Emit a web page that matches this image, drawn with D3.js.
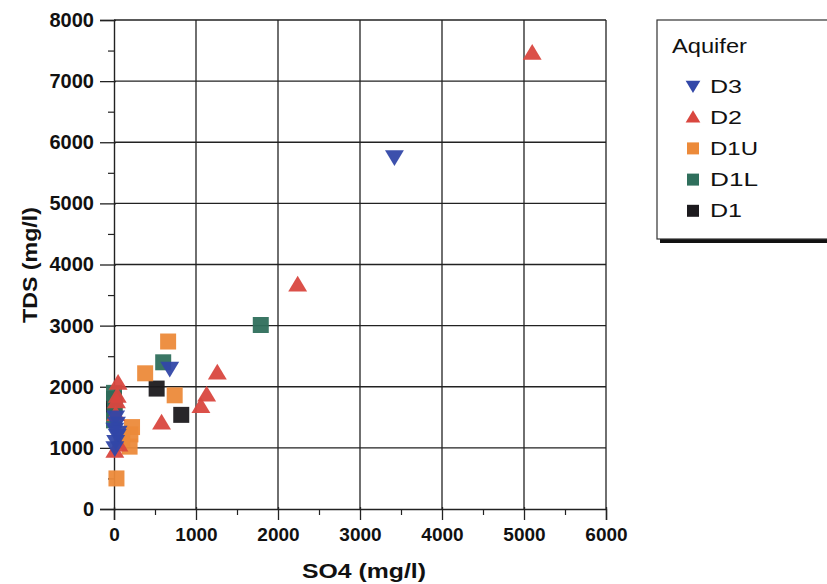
<!DOCTYPE html>
<html><head><meta charset="utf-8">
<script src="https://cdn.jsdelivr.net/npm/d3@7"></script>
<style>body{margin:0;background:#fff}svg{display:block}text{font-family:Arial,"Liberation Sans",sans-serif}</style>
</head><body>
<svg id="c" width="827" height="584"></svg>
<script>
const seriesNames = ["D3","D2","D1U","D1L","D1"];
const seriesColors = ["#3247a8","#d9473f","#ec8a3a","#2f6f5c","#1c1a1e"];
const seriesShapes = ["tri-down","tri-up","square","square","square"];
const D3pts  = [[3420,5760],[680,2300],[20,1500],[30,1400],[10,1300],[40,1200],[20,1100],[10,1000],[50,1250]];
const D2pts  = [[5100,7460],[2240,3670],[1260,2230],[1130,1870],[1060,1680],[580,1410],[50,2060],[30,1760],[20,1550],[10,950],[60,1050],[40,1850]];
const D1Upts = [[660,2740],[380,2220],[740,1860],[220,1340],[200,1220],[190,1020],[30,500],[100,1150]];
const D1Lpts = [[1790,3010],[600,2400],[0,1900],[10,1700],[0,1450]];
const D1pts  = [[520,1970],[820,1540],[0,1800],[0,1600]];
const xTicks = [0,1000,2000,3000,4000,5000,6000];
const yTicks = [0,1000,2000,3000,4000,5000,6000,7000,8000];
const minorX = [500,1500,2500,3500,4500,5500];
const minorY = [500,1500,2500,3500,4500,5500,6500,7500];
const allSeries = [D3pts,D2pts,D1Upts,D1Lpts,D1pts];

const svg = d3.select("#c");
const x = d3.scaleLinear().domain([0,6000]).range([114,606]);
const y = d3.scaleLinear().domain([0,8000]).range([509,20]);

// grid
const g = svg.append("g");
g.selectAll("line.h").data(yTicks.slice(1)).join("line")
  .attr("x1",x(0)).attr("x2",x(6000)).attr("y1",d=>y(d)).attr("y2",d=>y(d))
  .attr("stroke","#222").attr("stroke-width",1.3);
g.selectAll("line.v").data(xTicks.slice(1)).join("line")
  .attr("y1",y(0)).attr("y2",y(8000)).attr("x1",d=>x(d)).attr("x2",d=>x(d))
  .attr("stroke","#222").attr("stroke-width",1.3);

// axes
const xAxis = d3.axisBottom(x).tickValues(xTicks).tickSize(11).tickPadding(8).tickFormat(d3.format("d"));
const yAxis = d3.axisLeft(y).tickValues(yTicks).tickSize(14).tickPadding(6).tickFormat(d3.format("d"));
const xa = svg.append("g").attr("transform",`translate(0,${y(0)})`).call(xAxis);
const ya = svg.append("g").attr("transform",`translate(${x(0)},0)`).call(yAxis);
[xa,ya].forEach(a=>{
  a.select(".domain").attr("stroke","#222").attr("stroke-width",1.4);
  a.selectAll(".tick line").attr("stroke","#222").attr("stroke-width",1.3);
  a.selectAll(".tick text").attr("fill","#111").style("font-weight","bold");
});
xa.selectAll(".tick text").style("font-size","19px");
ya.selectAll(".tick text").style("font-size","20px");
xa.selectAll(".tick line").attr("y1",-2);
ya.selectAll(".tick line").attr("x1",2);
svg.append("g").attr("transform",`translate(0,${y(0)})`)
  .call(d3.axisBottom(x).tickValues(minorX).tickSize(6).tickFormat(""))
  .call(a=>{a.select(".domain").remove();a.selectAll("line").attr("stroke","#222").attr("stroke-width",1.2);});
svg.append("g").attr("transform",`translate(${x(0)},0)`)
  .call(d3.axisLeft(y).tickValues(minorY).tickSize(6).tickFormat(""))
  .call(a=>{a.select(".domain").remove();a.selectAll("line").attr("stroke","#222").attr("stroke-width",1.2);});

// titles
svg.append("text").attr("x",364).attr("y",578).attr("text-anchor","middle")
  .attr("textLength",124).attr("lengthAdjust","spacingAndGlyphs")
  .style("font-size","21px").style("font-weight","bold").attr("fill","#111").text("SO4 (mg/l)");
svg.append("text").attr("transform","translate(37,265) rotate(-90)").attr("text-anchor","middle")
  .attr("textLength",116).attr("lengthAdjust","spacingAndGlyphs")
  .style("font-size","21px").style("font-weight","bold").attr("fill","#111").text("TDS (mg/l)");

// markers
function shapePath(s, r){
  if(s==="square") return `M${-r},${-r}H${r}V${r}H${-r}Z`;
  if(s==="tri-up") return `M0,${-r}L${r*1.05},${r*0.75}L${-r*1.05},${r*0.75}Z`;
  return `M0,${r}L${r*1.05},${-r*0.75}L${-r*1.05},${-r*0.75}Z`;
}
const pts = svg.append("g");
for(let i=allSeries.length-1;i>=0;i--){
  pts.selectAll(null).data(allSeries[i]).join("path")
    .attr("transform",d=>`translate(${x(d[0])},${y(d[1])})`)
    .attr("d",shapePath(seriesShapes[i], seriesShapes[i]==="square"?8:9))
    .attr("fill",seriesColors[i]).attr("opacity",0.95);
}

// legend
const lg = svg.append("g");
lg.append("rect").attr("x",660).attr("y",238).attr("width",180).attr("height",5).attr("fill","#111");
lg.append("rect").attr("x",657).attr("y",20).attr("width",180).attr("height",219)
  .attr("fill","#fff").attr("stroke","#333").attr("stroke-width",1.2);
lg.append("text").attr("x",672).attr("y",53).attr("textLength",75).attr("lengthAdjust","spacingAndGlyphs")
  .style("font-size","20px").attr("fill","#111").text("Aquifer");
seriesNames.forEach((n,i)=>{
  const cy = 86 + i*31.2;
  lg.append("path").attr("transform",`translate(693,${cy})`)
    .attr("d",shapePath(seriesShapes[i], seriesShapes[i]==="square"?6:7)).attr("fill",seriesColors[i]);
  lg.append("text").attr("x",710).attr("y",cy+6.5).attr("textLength",n.length*16)
    .attr("lengthAdjust","spacingAndGlyphs")
    .style("font-size","18px").attr("fill","#111").text(n);
});
</script>
</body></html>
